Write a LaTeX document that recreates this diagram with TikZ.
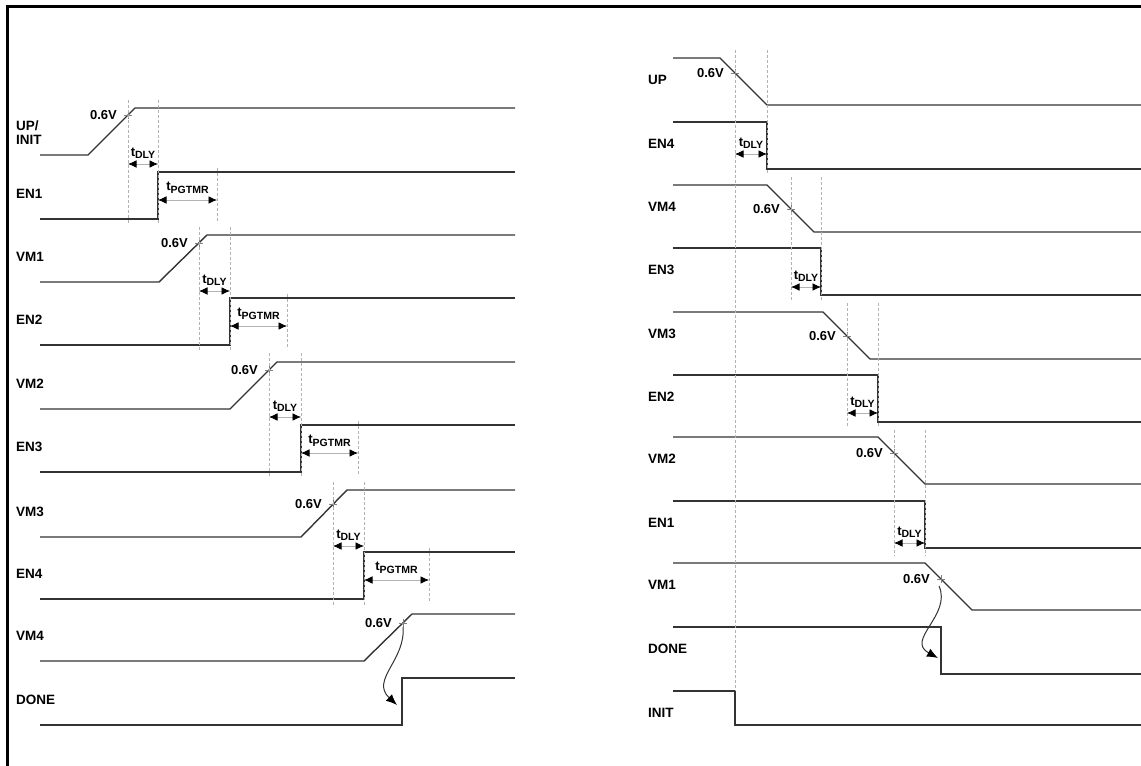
\documentclass[tikz,border=0pt]{standalone}
\usepackage{fontspec}
\setmainfont{Liberation Sans}
\usetikzlibrary{arrows.meta,calc}
\tikzset{
  sig/.style={line width=1.4pt, draw=black!80},
  guide/.style={draw=gray!60, line width=0.6pt, dash pattern=on 3pt off 2pt},
  tspan/.style={draw=gray!60, line width=0.7pt,
    {Latex[black,length=8.5pt,width=7.5pt]}-{Latex[black,length=8.5pt,width=7.5pt]}},
  vmark/.style={draw=gray, line width=0.6pt},
  signame/.style={font=\bfseries\fontsize{13.5}{14}\selectfont, anchor=west, inner sep=0pt, align=left},
  volt/.style={font=\bfseries\fontsize{13}{14}\selectfont, anchor=east, inner sep=0pt},
  tlabel/.style={font=\bfseries\fontsize{13}{14}\selectfont, inner sep=0pt},
  cause/.style={line width=1pt, draw=black!80, -{Latex[black,length=11pt,width=9pt]}}
}
\newcommand{\tsub}[1]{t\raisebox{-0.35ex}{\fontsize{10.5}{12}\selectfont #1}}
\newcommand{\xmark}[1]{\draw[vmark] (#1) +(-4,0) -- +(4,0) +(0,-4) -- +(0,4);}

\begin{document}
\begin{tikzpicture}[x=1pt,y=-1pt]
    \useasboundingbox (0,0) rectangle (1141,766);
    \draw[line width=3.5pt] (7.5,766) -- (7.5,6.5) -- (1141,6.5);

    % power-up sequence
    \node[signame] (l-UP) at (16,133) {UP/\\INIT};
    \foreach \n/\y in {EN1/172,VM1/235,EN2/298,VM2/362,EN3/425,VM3/490,EN4/552,VM4/614,DONE/678}
        \node[signame] (l-\n) at (16,\y+22) {\n};
    \foreach \s/\e/\y/\c/\n in {88/135/108/128/UP,159/207/235/199/VM1,230/277/362/269/VM2,301/347/490/333/VM3,364/412/614/403/VM4}{
        \draw[sig] (40,\y+47) -- (\s,\y+47) -- (\e,\y) -- (515,\y);
        \pgfmathsetmacro\cy{\y+47-47*(\c-\s)/(\e-\s)}
        \coordinate (lx-\n) at (\c,\cy);
        \xmark{lx-\n}
        \node[volt] at ([xshift=-11pt]lx-\n) {0.6V};
    }
    \foreach \x/\y in {158/172,230/298,301/425,364/552,402/678}
        \draw[sig] (40,\y+47) -- (\x,\y+47) -- (\x,\y) -- (515,\y);
    \foreach \c/\e/\t/\b/\a in {128/158/100/225/164,199/230/227/352/291,269/301/353/478/417,333/364/482/607/546}{
        \draw[guide] (\c,\t) -- (\c,\b);
        \draw[guide] (\e,\t) -- (\e,\b);
        \draw[tspan] (\c,\a) -- (\e,\a);
        \node[tlabel] at ({(\c+\e)/2},\a-11) {\tsub{DLY}};
    }
    \foreach \e/\f/\y in {158/217/172,230/287/298,301/358/425,364/429/552}{
        \draw[guide] (\f,\y-4) -- (\f,\y+51);
        \draw[tspan] (\e,\y+28) -- (\f,\y+28);
        \node[tlabel] at ({(\e+\f)/2},\y+16) {\tsub{PGTMR}};
    }
    \coordinate (l-tip) at (397,705);
    \draw[cause] (lx-VM4) ++(0,4) .. controls (406,660) and (370,680) .. (l-tip);

    % power-down sequence
    \foreach \n/\y in {UP/58,EN4/122,VM4/185,EN3/248,VM3/312,EN2/375,VM2/437,EN1/501,VM1/563,DONE/627,INIT/691}
        \node[signame] (r-\n) at (648,\y+22) {\n};
    \foreach \s/\e/\y/\c/\n in {720/767/58/735/UP,767/814/185/791/VM4,823/870/312/847/VM3,878/925/437/894/VM2,925/972/563/941/VM1}{
        \draw[sig] (673,\y) -- (\s,\y) -- (\e,\y+47) -- (1141,\y+47);
        \pgfmathsetmacro\cy{\y+47*(\c-\s)/(\e-\s)}
        \coordinate (rx-\n) at (\c,\cy);
        \xmark{rx-\n}
        \node[volt] at ([xshift=-11pt]rx-\n) {0.6V};
    }
    \foreach \x/\y in {767/122,821/248,878/375,925/501,941/627}
        \draw[sig] (673,\y) -- (\x,\y) -- (\x,\y+47) -- (1141,\y+47);
    \draw[sig] (673,691) -- (735,691) -- (735,725) -- (1141,725);
    \draw[guide] (735,50) -- (735,691);
    \draw[guide] (767,50) -- (767,173);
    \foreach \c/\e/\t/\b/\a in {735/767/50/173/154,791/821/177/302/287,847/878/303/427/413,894/925/430/556/543}{
        \ifnum\c>735 \draw[guide] (\c,\t) -- (\c,\b); \draw[guide] (\e,\t) -- (\e,\b); \fi
        \draw[tspan] (\c,\a) -- (\e,\a);
        \node[tlabel] at ({(\c+\e)/2},\a-11) {\tsub{DLY}};
    }
    \coordinate (r-tip) at (938,658);
    \draw[cause] (rx-VM1) ++(-2,7) .. controls (952,615) and (905,640) .. (r-tip);
\end{tikzpicture}
\end{document}
